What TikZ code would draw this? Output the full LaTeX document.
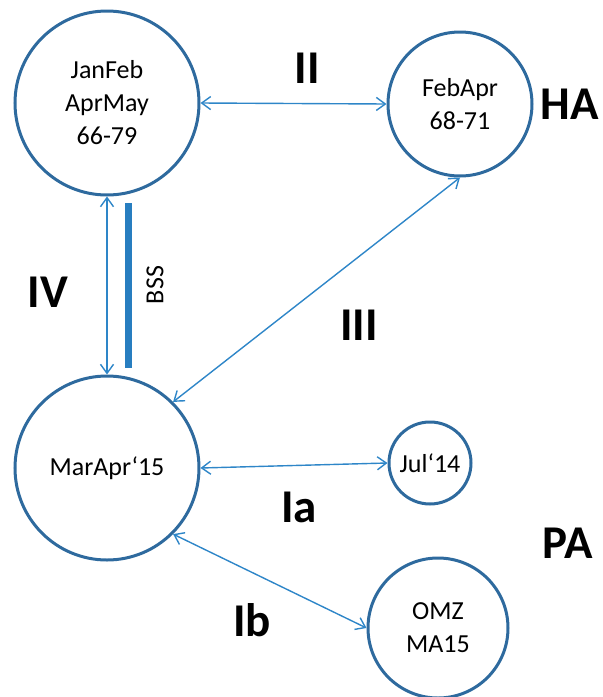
\documentclass[tikz,border=0pt]{standalone}
\usepackage{fontspec}
\setmainfont{Carlito}
\usetikzlibrary{arrows.meta}
\definecolor{ringblue}{RGB}{46,106,158}
\definecolor{linkblue}{RGB}{46,134,200}
\definecolor{barblue}{RGB}{40,126,192}
\tikzset{
  period/.style={circle, draw=ringblue, line width=3pt, inner sep=0pt,
    align=center, font=\fontsize{26}{33}\selectfont},
  link/.style={draw=linkblue, line width=1.4pt,
    {Straight Barb[length=9pt,width=13pt]}-{Straight Barb[length=9pt,width=13pt]}},
  tag/.style={font=\fontsize{47}{50}\selectfont\bfseries, inner sep=0pt}
}
\begin{document}
\begin{tikzpicture}[x=1pt,y=-1pt]
\useasboundingbox (0,0) rectangle (603,697);
% periods
\node[period, minimum size=184pt] (jf) at (107,103) {JanFeb\\AprMay\\66-79};
\node[period, minimum size=144pt] (fa) at (460,104) {FebApr\\68-71};
\node[period, minimum size=184pt] (ma) at (107,468) {MarApr‘15};
\node[period, minimum size=82pt]  (jl) at (430,463) {Jul‘14};
\node[period, minimum size=140pt] (om) at (438,628) {OMZ\\MA15};
% links between periods
\draw[link] (jf.east) -- (fa.west);
\draw[link] (jf.south) -- (ma.north);
\draw[link] (ma.45) -- (fa.south);
\draw[link] (ma.east) -- (jl.west);
\draw[link] (ma.-45) -- (om.west);
% BSS bar
\coordinate (bsstop) at (128.5,203);
\coordinate (bssbot) at (128.5,368);
\draw[barblue, line width=7pt] (bsstop) -- (bssbot);
\node[rotate=90, font=\fontsize{26}{28}\selectfont, inner sep=0pt] (bss) at (155,285) {BSS};
% labels
\node[tag] (lII)  at (307,68)  {II};
\node[tag] (lIV)  at (48,292)  {IV};
\node[tag] (lIII) at (359,325) {III};
\node[tag] (lHA)  at (570,104) {HA};
\node[tag] (lIa)  at (299,507) {Ia};
\node[tag] (lPA)  at (568,543) {PA};
\node[tag] (lIb)  at (252,620) {Ib};
\end{tikzpicture}
\end{document}
